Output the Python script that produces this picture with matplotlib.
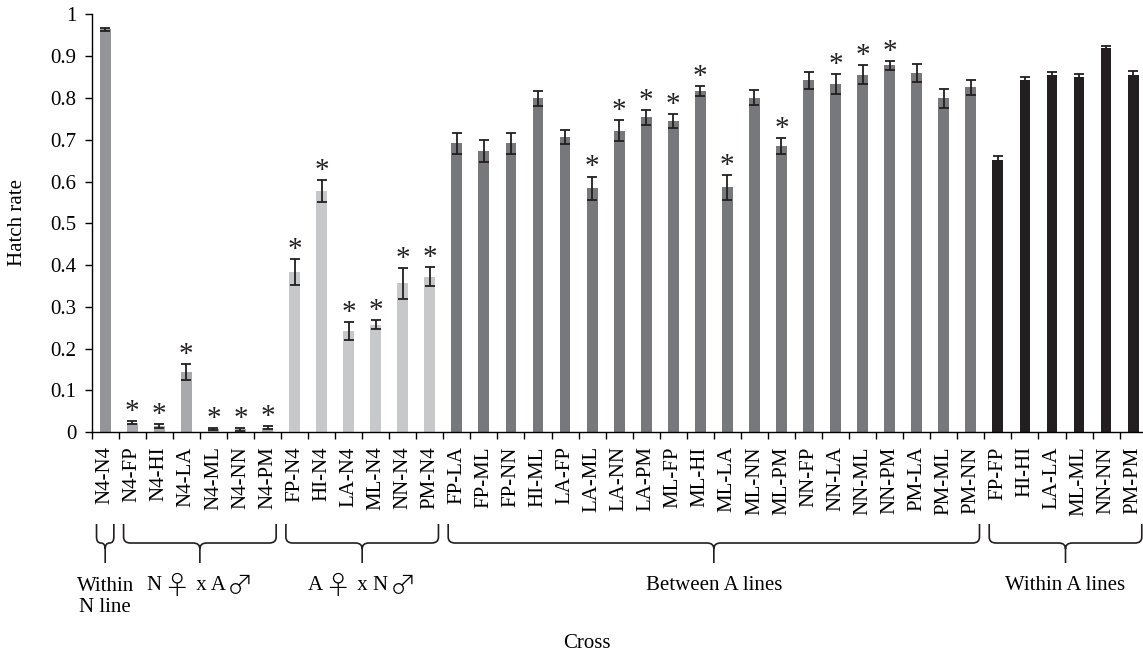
import numpy as np
import matplotlib
matplotlib.use("Agg")
import matplotlib.pyplot as plt
from matplotlib.path import Path
from matplotlib.patches import PathPatch
from matplotlib.transforms import blended_transform_factory
from matplotlib.offsetbox import TextArea, HPacker, AnnotationBbox

plt.rcParams['font.family'] = ['Liberation Serif', 'DejaVu Serif', 'DejaVu Sans']

# -------- Data --------
crosses = ["N4-N4",
           "N4-FP", "N4-HI", "N4-LA", "N4-ML", "N4-NN", "N4-PM",
           "FP-N4", "HI-N4", "LA-N4", "ML-N4", "NN-N4", "PM-N4",
           "FP-LA", "FP-ML", "FP-NN", "HI-ML", "LA-FP", "LA-ML", "LA-NN", "LA-PM",
           "ML-FP", "ML-HI", "ML-LA", "ML-NN", "ML-PM", "NN-FP", "NN-LA", "NN-ML",
           "NN-PM", "PM-LA", "PM-ML", "PM-NN",
           "FP-FP", "HI-HI", "LA-LA", "ML-ML", "NN-NN", "PM-PM"]
hatch = [0.964,
         0.023, 0.015, 0.144, 0.008, 0.007, 0.011,
         0.383, 0.577, 0.242, 0.257, 0.356, 0.372,
         0.691, 0.673, 0.691, 0.799, 0.706, 0.584, 0.722, 0.754,
         0.744, 0.817, 0.586, 0.801, 0.685, 0.842, 0.833, 0.856,
         0.878, 0.860, 0.799, 0.825,
         0.651, 0.842, 0.854, 0.849, 0.919, 0.856]
err = [0.003,
       0.004, 0.004, 0.020, 0.003, 0.003, 0.004,
       0.031, 0.026, 0.022, 0.011, 0.036, 0.023,
       0.026, 0.027, 0.026, 0.018, 0.017, 0.028, 0.026, 0.018,
       0.017, 0.012, 0.030, 0.019, 0.019, 0.020, 0.024, 0.022,
       0.011, 0.021, 0.023, 0.017,
       0.009, 0.009, 0.008, 0.009, 0.006, 0.008]
signif = [0,
          1, 1, 1, 1, 1, 1,
          1, 1, 1, 1, 1, 1,
          0, 0, 0, 0, 0, 1, 1, 1,
          1, 1, 1, 0, 1, 0, 1, 1,
          1, 0, 0, 0,
          0, 0, 0, 0, 0, 0]
# group labels: pieces (text, is_symbol)
group_names = [[("Within\nN line", False)],
               [("N", False), ("♀", True), (" x A", False), ("♂", True)],
               [("A", False), ("♀", True), (" x N", False), ("♂", True)],
               [("Between A lines", False)],
               [("Within A lines", False)]]
group_start = [0, 1, 7, 13, 33]
group_end = [0, 6, 12, 32, 38]
group_colors = ["#939598", "#a7a9ac", "#c7c8ca", "#77787b", "#231f20"]

FS = 15

# -------- Plot --------
fig = plt.figure(figsize=(11.43, 6.52), dpi=100)
ax = fig.add_axes([0.0802, 0.337, 0.923, 0.641])

x = np.arange(len(crosses))
colors = []
for g in range(len(group_colors)):
    colors += [group_colors[g]] * (group_end[g] - group_start[g] + 1)

ax.bar(x, hatch, width=0.4, color=colors, zorder=2)
ax.errorbar(x, hatch, yerr=err, fmt="none", ecolor="#231f20", elinewidth=1.3,
            capsize=3.5, capthick=1.3, zorder=3)

for i in range(len(crosses)):
    if signif[i]:
        ax.annotate("*", (x[i], hatch[i] + err[i]), xytext=(0, 1.5),
                    textcoords="offset points", ha="center", va="baseline",
                    fontsize=21, color="#231f20")

ax.set_xlim(-0.5, len(crosses) - 0.5)
ax.set_ylim(0, 1)
ax.set_yticks(np.arange(0, 1.01, 0.1))
ax.set_yticklabels(["0", "0.1", "0.2", "0.3", "0.4", "0.5", "0.6", "0.7", "0.8", "0.9", "1"])
ax.set_xticks(x)
ax.set_xticklabels(crosses, rotation=90, fontsize=FS)
ax.set_xticks(np.arange(-0.5, len(crosses), 1), minor=True)
ax.tick_params(axis="x", which="major", length=0, pad=10)
ax.tick_params(axis="x", which="minor", length=5, width=1, direction="out")
ax.tick_params(axis="y", length=5, width=1, direction="out", labelsize=FS, pad=6)
for s in ["top", "right"]:
    ax.spines[s].set_visible(False)
for s in ["left", "bottom"]:
    ax.spines[s].set_linewidth(1)

fig.text(18 / 1143, 0.658, "Hatch rate", rotation=90, ha="center", va="center", fontsize=FS)
fig.text(587 / 1143, 1 - 643 / 652, "Cross", ha="center", va="center", fontsize=FS)

# -------- Group braces --------
trans = blended_transform_factory(ax.transData, fig.transFigure)
ytop = 1 - 524 / 652
ymid = 1 - 543 / 652
ybot = 1 - 563 / 652
ry = 6 / 652
for g in range(len(group_names)):
    x0 = group_start[g] - 0.32
    x1 = group_end[g] + 0.32
    xc = (x0 + x1) / 2
    rx = min(0.25, (xc - x0) / 2)
    verts = [(x0, ytop), (x0, ymid + ry), (x0, ymid), (x0 + rx, ymid),
             (xc - rx, ymid), (xc, ymid), (xc, ymid - ry), (xc, ybot),
             (xc, ymid - ry), (xc, ymid), (xc + rx, ymid),
             (x1 - rx, ymid), (x1, ymid), (x1, ymid + ry), (x1, ytop)]
    codes = [Path.MOVETO, Path.LINETO, Path.CURVE3, Path.CURVE3,
             Path.LINETO, Path.CURVE3, Path.CURVE3, Path.LINETO,
             Path.MOVETO, Path.CURVE3, Path.CURVE3,
             Path.LINETO, Path.CURVE3, Path.CURVE3, Path.LINETO]
    patch = PathPatch(Path(verts, codes), transform=trans, facecolor="none",
                      edgecolor="#231f20", lw=1.2, clip_on=False)
    fig.add_artist(patch)

    pieces = group_names[g]
    if len(pieces) == 1:
        fig.text(xc, 1 - 597 / 652 if g == 0 else 1 - 586 / 652, pieces[0][0],
                 transform=trans, ha="center", va="center", fontsize=FS,
                 linespacing=1.15)
    else:
        areas = []
        for txt, sym in pieces:
            if sym:
                props = dict(fontsize=19, family=["Noto Sans CJK JP", "DejaVu Sans"],
                             fontweight="light")
            else:
                props = dict(fontsize=FS)
            areas.append(TextArea(txt, textprops=props))
        box = HPacker(children=areas, align="center", pad=0, sep=1)
        ab = AnnotationBbox(box, (xc, 1 - 586 / 652), xycoords=trans,
                            box_alignment=(0.5, 0.5), frameon=False, pad=0,
                            annotation_clip=False)
        fig.add_artist(ab)

fig.savefig("out.png", dpi=100)
